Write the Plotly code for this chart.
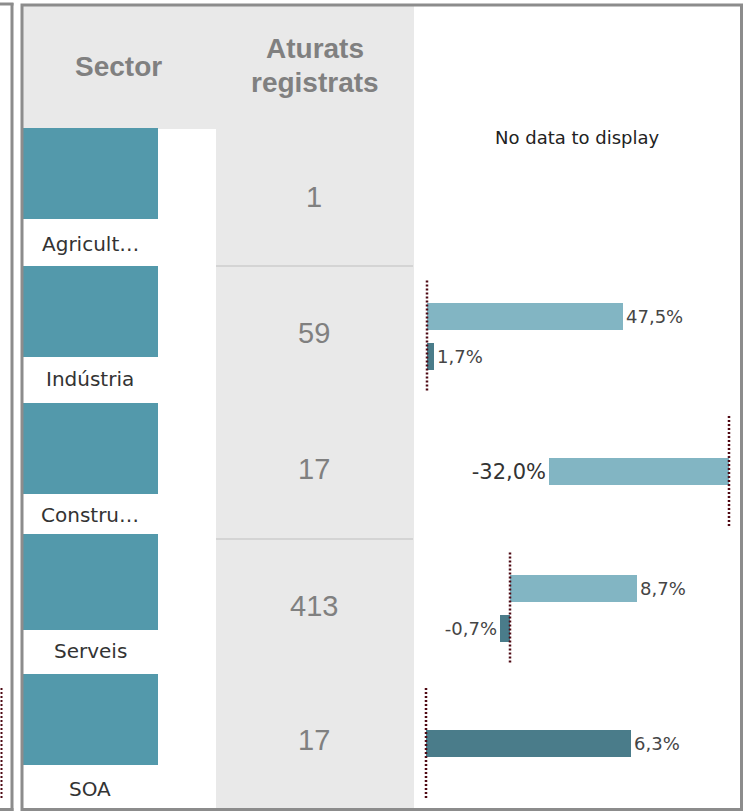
import plotly.graph_objects as go

# ---------------- data ----------------
sectors = ["Agricult…", "Indústria", "Constru…", "Serveis", "SOA"]
aturats = [1, 59, 17, 413, 17]
var_light = [None, 47.5, -32.0, 8.7, None]   # light series (%)
var_dark = [None, 1.7, None, -0.7, 6.3]      # dark series (%)
header_sector = "Sector"
header_aturats = ["Aturats", "registrats"]
no_data_text = "No data to display"

# ---------------- layout (pixels) ----------------
W, H = 747, 811
def px(x):
    return x / W
def py(y):
    return 1 - y / H

BORDER = "#8c8c8c"
GRAY_BG = "#e9e9e9"
TEAL = "#5399ab"
LIGHT = "#82b5c3"
DARK = "#4a7c8a"
REF_LINE = "#4f0a14"

teal_top = [128, 266, 403, 534, 674]
teal_bot = [219, 357, 494, 630, 765]
label_y = [244, 379, 515, 651, 789]
row_bounds = [128, 266, 400, 539, 672, 808]
chart_center = [None, 335.5, 471, 607.5, 743]
zero_px = [None, 427, 729, 510, 426]
px_per_unit = [None, 4.13, 5.625, 14.6, 32.5]
label_size = [None, 18, 21, 18, 18]
label_color = [None, "#454545", "#333333", "#454545", "#454545"]
CH_X0, CH_X1 = 413, 741
CH_HALF = 55
PX_PER_CAT = 40

fig = go.Figure()
shapes = []
annotations = []

# panel backgrounds
shapes.append(dict(type="rect", xref="paper", yref="paper", x0=px(23), x1=px(414), y0=py(129), y1=py(6),
                   fillcolor=GRAY_BG, line_width=0, layer="below"))
shapes.append(dict(type="rect", xref="paper", yref="paper", x0=px(216), x1=px(414), y0=py(808), y1=py(128),
                   fillcolor=GRAY_BG, line_width=0, layer="below"))
for yb in (266, 539):
    shapes.append(dict(type="line", xref="paper", yref="paper", x0=px(216), x1=px(413), y0=py(yb), y1=py(yb),
                       line=dict(color="#d4d4d4", width=2), layer="below"))

# sector cells and labels, values
for i, name in enumerate(sectors):
    shapes.append(dict(type="rect", xref="paper", yref="paper", x0=px(23), x1=px(158),
                       y0=py(teal_bot[i]), y1=py(teal_top[i]), fillcolor=TEAL, line_width=0, layer="below"))
    annotations.append(dict(xref="paper", yref="paper", x=px(90), y=py(label_y[i]), text=name, showarrow=False,
                            xanchor="center", yanchor="middle",
                            font=dict(family="DejaVu Sans", size=20, color="#333333")))
    yc = (row_bounds[i] + row_bounds[i + 1]) / 2
    annotations.append(dict(xref="paper", yref="paper", x=px(314), y=py(yc), text=str(aturats[i]), showarrow=False,
                            xanchor="center", yanchor="middle",
                            font=dict(family="Liberation Sans", size=29, color="#808080")))

# headers
annotations.append(dict(xref="paper", yref="paper", x=px(118), y=py(67), text="<b>%s</b>" % header_sector,
                        showarrow=False, xanchor="center", yanchor="middle",
                        font=dict(family="Liberation Sans", size=28, color="#808080")))
for k, (t, yy) in enumerate(zip(header_aturats, (48, 83))):
    annotations.append(dict(xref="paper", yref="paper", x=px(315), y=py(yy), text="<b>%s</b>" % t,
                            showarrow=False, xanchor="center", yanchor="middle",
                            font=dict(family="Liberation Sans", size=28, color="#808080")))

# bar charts per row
def fmt(v):
    return ("%.1f" % v).replace(".", ",") + "%"

for i in range(len(sectors)):
    items = []
    if var_light[i] is not None:
        items.append(("A", var_light[i], LIGHT))
    if var_dark[i] is not None:
        items.append(("B", var_dark[i], DARK))
    if not items:
        annotations.append(dict(xref="paper", yref="paper", x=px(577), y=py(137), text=no_data_text,
                                showarrow=False, xanchor="center", yanchor="middle",
                                font=dict(family="DejaVu Sans", size=18, color="#222222")))
        continue
    ax = i + 1
    xa, ya = "x%d" % ax, "y%d" % ax
    cats = [c for c, _, _ in items]
    vals = [v for _, v, _ in items]
    cols = [c for _, _, c in items]
    fig.add_trace(go.Bar(
        x=vals, y=cats, orientation="h", marker=dict(color=cols, line_width=0),
        width=27 / PX_PER_CAT, text=[fmt(v) for v in vals], textposition="outside",
        constraintext="none", cliponaxis=False,
        outsidetextfont=dict(family="DejaVu Sans", size=label_size[i], color=label_color[i]),
        xaxis=xa, yaxis=ya, showlegend=False, hoverinfo="skip"))
    z, s = zero_px[i], px_per_unit[i]
    xr = [-(z - CH_X0) / s, (CH_X1 - z) / s]
    half = CH_HALF / PX_PER_CAT
    mid = (len(cats) - 1) / 2
    yc = chart_center[i]
    fig.layout["xaxis%d" % ax] = dict(domain=[px(CH_X0), px(CH_X1)], range=xr, visible=False,
                                      anchor=ya, fixedrange=True)
    fig.layout["yaxis%d" % ax] = dict(domain=[py(yc + CH_HALF), py(yc - CH_HALF)], type="category",
                                      categoryarray=cats, range=[mid + half, mid - half],
                                      visible=False, anchor=xa, fixedrange=True)
    shapes.append(dict(type="line", xref=xa, yref="%s domain" % ya, x0=0, x1=0, y0=0, y1=1,
                       line=dict(color=REF_LINE, width=2.5, dash="2px,2px"), layer="above"))

# borders
shapes.append(dict(type="rect", xref="paper", yref="paper", x0=px(22), x1=px(741.5), y0=py(809.5), y1=py(5),
                   line=dict(color=BORDER, width=3), fillcolor="rgba(0,0,0,0)"))
shapes.append(dict(type="line", xref="paper", yref="paper", x0=px(12), x1=px(12), y0=py(811), y1=py(3),
                   line=dict(color=BORDER, width=3)))
shapes.append(dict(type="line", xref="paper", yref="paper", x0=0, x1=px(13.5), y0=py(4), y1=py(4),
                   line=dict(color=BORDER, width=3)))
shapes.append(dict(type="line", xref="paper", yref="paper", x0=0, x1=px(13.5), y0=py(809.5), y1=py(809.5),
                   line=dict(color=BORDER, width=3)))
shapes.append(dict(type="line", xref="paper", yref="paper", x0=px(1.5), x1=px(1.5), y0=py(798), y1=py(688),
                   line=dict(color=REF_LINE, width=2, dash="2px,2px")))

fig.update_layout(
    width=W, height=H, margin=dict(l=0, r=0, t=0, b=0),
    paper_bgcolor="white", plot_bgcolor="rgba(0,0,0,0)",
    xaxis=dict(visible=False), yaxis=dict(visible=False),
    shapes=shapes, annotations=annotations, showlegend=False,
    bargap=0, barmode="group",
)
fig.write_html("out.html", config={"displayModeBar": False},
               post_script="document.body.style.margin='0';document.body.style.overflow='hidden';")
